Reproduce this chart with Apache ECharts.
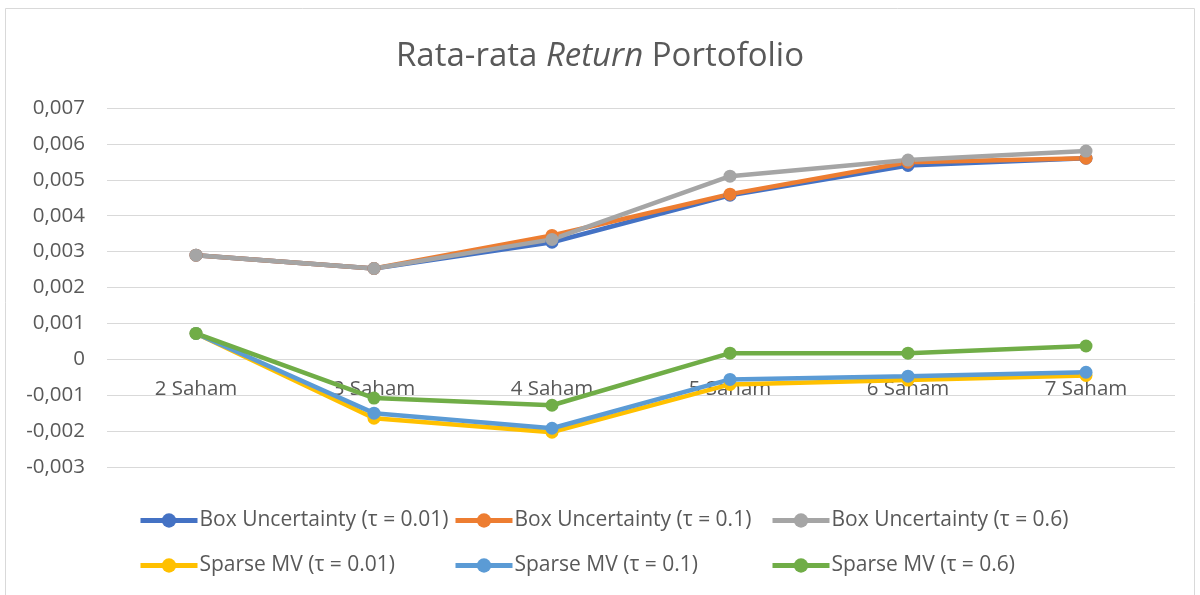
<!DOCTYPE html>
<html>
<head>
<meta charset="utf-8">
<script src="https://cdn.jsdelivr.net/npm/echarts@6/dist/echarts.min.js"></script>
<style>html,body{margin:0;padding:0;background:#fff;}#c{width:1200px;height:595px;}</style>
</head>
<body>
<div id="c"></div>
<script>
const categories = ['2 Saham', '3 Saham', '4 Saham', '5 Saham', '6 Saham', '7 Saham'];
const seriesNames = ['Box Uncertainty (τ = 0.01)', 'Box Uncertainty (τ = 0.1)', 'Box Uncertainty (τ = 0.6)',
                     'Sparse MV (τ = 0.01)', 'Sparse MV (τ = 0.1)', 'Sparse MV (τ = 0.6)'];
const boxTau001 = [0.0029, 0.00253, 0.00326, 0.00457, 0.0054, 0.0056];
const boxTau01  = [0.0029, 0.00253, 0.00345, 0.0046, 0.00549, 0.0056];
const boxTau06  = [0.0029, 0.00253, 0.00334, 0.0051, 0.00555, 0.0058];
const sparseTau001 = [0.00072, -0.00164, -0.00203, -0.0007, -0.00058, -0.00045];
const sparseTau01  = [0.00072, -0.0015, -0.00192, -0.00056, -0.00047, -0.00036];
const sparseTau06  = [0.00072, -0.00108, -0.00128, 0.00017, 0.00017, 0.00037];
const yTicks = { min: -0.003, max: 0.007, interval: 0.001 };

const colors = ['#4472C4', '#ED7D31', '#A5A5A5', '#FFC000', '#5B9BD5', '#70AD47'];
const dataSets = [boxTau001, boxTau01, boxTau06, sparseTau001, sparseTau01, sparseTau06];
const FONT = 'Open Sans';
const TXT = '#595959';

const chart = echarts.init(document.getElementById('c'));
const legendCol = (names, left) => ({
  data: names, left: left, top: 510, orient: 'vertical', itemGap: 24,
  padding: 0,
  itemWidth: 57, itemHeight: 18, selectedMode: false,
  lineStyle: { width: 5 },
  textStyle: { fontFamily: FONT, fontSize: 21, color: TXT, padding: [0, 0, 0, -3] }
});
chart.setOption({
  backgroundColor: '#fff',
  animation: false,
  title: {
    text: '{n|Rata-rata }{i|Return}{n| Portofolio}',
    left: 'center', top: 35,
    textStyle: { fontWeight: 'normal', rich: {
      n: { fontFamily: FONT, fontSize: 33, color: TXT, fontWeight: 'normal' },
      i: { fontFamily: FONT, fontSize: 33, color: TXT, fontStyle: 'italic', fontWeight: 'normal' }
    } }
  },
  graphic: [{ type: 'rect', shape: { x: 5.5, y: 8.5, width: 1189, height: 600 },
    style: { fill: 'none', stroke: '#d9d9d9', lineWidth: 1 }, silent: true }],
  legend: [
    legendCol([seriesNames[0], seriesNames[3]], 138),
    legendCol([seriesNames[1], seriesNames[4]], 453),
    legendCol([seriesNames[2], seriesNames[5]], 770)
  ],
  grid: { left: 107, right: 25, top: 108, bottom: 128 },
  xAxis: {
    type: 'category', data: categories, boundaryGap: true,
    offset: -107,
    axisLine: { show: false },
    axisTick: { show: false },
    axisLabel: { fontFamily: FONT, fontSize: 20.5, color: TXT, margin: 19 }
  },
  yAxis: {
    type: 'value', min: yTicks.min, max: yTicks.max, interval: yTicks.interval,
    axisLine: { show: false }, axisTick: { show: false },
    splitLine: { lineStyle: { color: '#d9d9d9', width: 1 } },
    axisLabel: {
      fontFamily: FONT, fontSize: 20.5, color: TXT, margin: 22,
      formatter: v => Math.abs(v) < 1e-9 ? '0' : v.toFixed(3).replace('.', ',')
    }
  },
  series: dataSets.map((d, i) => ({
    name: seriesNames[i], type: 'line', data: d,
    symbol: 'circle', symbolSize: 13,
    lineStyle: { color: colors[i], width: 4.5 },
    itemStyle: { color: colors[i] }
  }))
});
</script>
</body>
</html>
